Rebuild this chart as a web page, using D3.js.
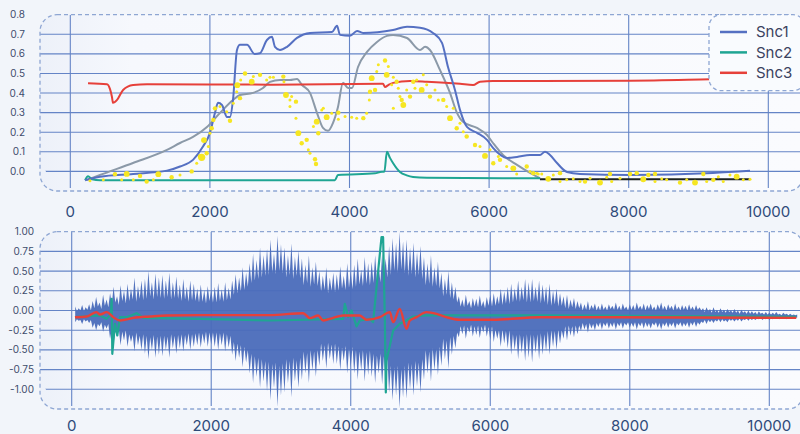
<!DOCTYPE html>
<html><head><meta charset="utf-8">
<script src="https://cdn.jsdelivr.net/npm/d3@7"></script>
<style>
html,body{margin:0;padding:0;background:#f2f5fa;}
svg{display:block;font-family:Inter,"Open Sans",sans-serif;}
</style></head><body>
<svg id="chart" width="800" height="434"></svg>
<script>
// ---------------- DATA ----------------
const xTicks = [0, 2000, 4000, 6000, 8000, 10000];
const topYTicks = [0.0, 0.1, 0.2, 0.3, 0.4, 0.5, 0.6, 0.7, 0.8];
const bottomYTicks = [1.0, 0.75, 0.5, 0.25, 0.0, -0.25, -0.5, -0.75, -1.0];
const seriesNames = ["Snc1", "Snc2", "Snc3"];

// top chart series [time, value]
const snc1Top = [[212,-0.045],[427,-0.027],[900,-0.013],[1385,0.004],[1572,0.025],[1758,0.059],[1901,0.127],[2001,0.197],[2073,0.299],[2116,0.35],[2173,0.339],[2245,0.278],[2288,0.278],[2331,0.365],[2388,0.62],[2431,0.646],[2532,0.646],[2640,0.60],[2715,0.603],[2817,0.671],[2889,0.687],[2932,0.636],[3004,0.62],[3105,0.636],[3248,0.682],[3434,0.707],[3749,0.712],[3821,0.743],[3864,0.697],[4007,0.692],[4108,0.717],[4194,0.707],[4624,0.722],[4824,0.738],[5010,0.733],[5196,0.707],[5325,0.656],[5411,0.533],[5511,0.416],[5583,0.314],[5683,0.227],[5827,0.197],[5970,0.161],[6056,0.12],[6257,0.069],[6400,0.074],[6586,0.084],[6729,0.084],[6801,0.1],[6873,0.084],[6973,0.043],[7116,-0.003],[7302,-0.013],[8019,-0.018],[9206,-0.008],[9738,0.003]];
const snc2Top = [[212,-0.045],[254,-0.025],[311,-0.04],[426,-0.045],[3790,-0.045],[3835,-0.018],[4366,-0.01],[4437,-0.003],[4500,0.0],[4536,0.1],[4580,0.069],[4623,0.043],[4723,-0.003],[4820,-0.02],[4910,-0.028],[5110,-0.032],[6729,-0.035]];
const snc3Top = [[254,0.45],[526,0.445],[569,0.42],[597,0.38],[612,0.35],[670,0.365],[756,0.416],[900,0.441],[1099,0.445],[2861,0.443],[4480,0.448],[4509,0.431],[4556,0.441],[4624,0.452],[4867,0.462],[5110,0.458],[5583,0.447],[5770,0.441],[5870,0.458],[6056,0.462],[6729,0.462],[8019,0.463],[9166,0.47],[9738,0.474]];
const greyTop = [[240,-0.043],[426,-0.018],[898,0.043],[1385,0.11],[1572,0.145],[1758,0.176],[1958,0.227],[2145,0.299],[2331,0.365],[2431,0.39],[2618,0.401],[2761,0.426],[2861,0.457],[3004,0.467],[3147,0.467],[3248,0.472],[3320,0.441],[3434,0.401],[3534,0.299],[3620,0.222],[3692,0.207],[3764,0.248],[3835,0.329],[3907,0.452],[3979,0.426],[4036,0.426],[4122,0.533],[4251,0.61],[4394,0.661],[4537,0.692],[4624,0.697],[4824,0.681],[5010,0.62],[5083,0.636],[5153,0.62],[5296,0.518],[5440,0.401],[5540,0.299],[5626,0.253],[5827,0.222],[5970,0.186],[6056,0.145],[6199,0.084],[6400,0.033],[6586,-0.008],[6729,-0.035]];
const blackTop = [[6729,-0.04],[9738,-0.04]];
// yellow scatter [time, value, size class]
const yellowPts = [[282,-0.048,1],[473,-0.043,1],[640,-0.014,2],[736,-0.043,1],[808,-0.013,3],[903,-0.043,1],[999,-0.023,2],[1094,-0.052,2],[1190,-0.043,1],[1261,-0.014,3],[1452,-0.03,2],[1572,-0.018,1],[1739,0.0,2],[1811,0.042,1],[1858,0.076,2],[1882,0.072,4],[1915,0.16,3],[1954,0.093,2],[1978,0.127,1],[2001,0.195,1],[2026,0.22,2],[2049,0.263,2],[2073,0.322,2],[2145,0.331,1],[2241,0.305,1],[2288,0.259,2],[2335,0.348,1],[2384,0.407,1],[2393,0.44,3],[2431,0.374,2],[2441,0.467,1],[2503,0.50,2],[2599,0.458,3],[2622,0.484,1],[2718,0.493,2],[2813,0.467,1],[2861,0.481,1],[2909,0.481,1],[3052,0.484,2],[3061,0.458,1],[3090,0.39,3],[3171,0.382,1],[3147,0.365,1],[3233,0.356,2],[3147,0.331,1],[3233,0.272,1],[3267,0.195,3],[3315,0.144,2],[3387,0.161,2],[3410,0.11,1],[3434,0.093,1],[3506,0.062,2],[3520,0.038,2],[3483,0.229,1],[3553,0.195,2],[3530,0.254,3],[3602,0.314,1],[3625,0.322,1],[3673,0.277,3],[3745,0.297,1],[3840,0.30,2],[3840,0.266,1],[3936,0.28,1],[4031,0.277,1],[4103,0.272,1],[4198,0.272,2],[4246,0.297,1],[4284,0.365,1],[4294,0.407,2],[4318,0.476,3],[4366,0.416,2],[4390,0.51,1],[4413,0.544,1],[4509,0.566,2],[4556,0.535,1],[4533,0.493,3],[4604,0.442,1],[4628,0.481,1],[4676,0.458,2],[4699,0.425,1],[4723,0.382,1],[4748,0.365,2],[4771,0.339,3],[4628,0.322,1],[4819,0.416,1],[4867,0.382,2],[4914,0.458,2],[4938,0.425,1],[4963,0.467,1],[5034,0.416,3],[5057,0.493,1],[5106,0.442,1],[5153,0.382,2],[5225,0.416,1],[5272,0.365,1],[5344,0.365,2],[5392,0.331,1],[5440,0.272,3],[5487,0.322,1],[5536,0.22,2],[5583,0.246,1],[5630,0.203,1],[5679,0.178,2],[5798,0.135,2],[5870,0.127,1],[5941,0.079,3],[6013,0.11,1],[6060,0.042,2],[6132,0.076,1],[6156,0.059,2],[6252,0.025,1],[6347,0.016,3],[6395,-0.013,1],[6539,0.025,2],[6586,0.0,1],[6633,-0.009,2],[6705,-0.013,1],[6682,-0.009,1],[6754,-0.013,1],[6848,-0.038,3],[6920,-0.018,1],[7016,-0.009,2],[7016,-0.052,1],[7112,-0.043,1],[7206,-0.038,1],[7302,-0.052,1],[7374,-0.052,2],[7446,-0.035,1],[7589,-0.057,3],[7685,-0.03,1],[7732,-0.013,2],[7756,-0.052,1],[7875,-0.035,1],[8019,-0.013,2],[8115,-0.009,2],[8209,-0.04,3],[8281,-0.018,2],[8377,-0.013,2],[8377,-0.052,1],[8473,-0.038,1],[8544,-0.043,1],[8735,-0.057,2],[8831,-0.043,1],[8950,-0.057,3],[9069,-0.013,2],[9117,-0.052,1],[9212,-0.043,2],[9284,-0.027,1],[9355,-0.052,1],[9451,-0.018,1],[9547,-0.027,3],[9642,-0.043,1],[9738,-0.04,1]];

// bottom chart: waveform peaks, one sample every 25 time units from t=50 (10 per row)
const waveStart = 50, waveStep = 25;
const waveUpper = [
.05,-.01,.03,.00,.07,-.01,.04,.01,.08,.00,
.12,.03,.17,.05,.10,.02,.20,.06,.14,.04,
.22,.08,.30,.10,.18,.07,.32,.12,.25,.09,
.34,.12,.28,.14,.42,.11,.31,.15,.38,.13,
.40,.15,.50,.18,.36,.14,.47,.17,.42,.16,
.45,.15,.38,.17,.48,.14,.36,.16,.43,.15,
.33,.12,.40,.14,.30,.11,.38,.13,.34,.12,
.28,.10,.33,.11,.26,.09,.31,.12,.27,.10,
.30,.10,.35,.12,.27,.11,.36,.13,.29,.14,
.38,.20,.46,.22,.42,.24,.55,.26,.48,.30,
.60,.35,.72,.38,.64,.40,.80,.42,.70,.44,
.78,.45,.90,.48,.72,.46,.95,.50,.84,.47,
.80,.42,.70,.45,.85,.40,.68,.44,.76,.41,
.66,.32,.58,.35,.70,.30,.55,.33,.62,.31,
.50,.24,.44,.26,.55,.22,.42,.25,.48,.23,
.46,.25,.56,.28,.44,.26,.60,.29,.50,.27,
.58,.30,.66,.33,.52,.31,.68,.34,.60,.32,
.62,.35,.70,.38,.58,.36,.72,.40,.66,.42,
.82,.45,.92,.50,.86,.48,1.00,.52,.88,.47,
.90,.44,.80,.46,.86,.42,.74,.45,.82,.40,
.68,.32,.60,.34,.70,.30,.55,.31,.62,.28,
.48,.18,.40,.20,.50,.16,.36,.14,.30,.10,
.18,.05,.14,.04,.20,.06,.12,.03,.16,.05,
.15,.04,.19,.05,.12,.03,.17,.06,.20,.05,
.22,.06,.18,.08,.28,.07,.24,.09,.30,.08,
.34,.10,.28,.12,.38,.11,.30,.13,.40,.10,
.36,.10,.40,.12,.30,.11,.38,.09,.33,.10,
.30,.07,.34,.06,.25,.08,.28,.05,.22,.06,
.18,.03,.20,.02,.14,.04,.16,.02,.12,.03,
.10,.00,.08,.01,.12,.00,.07,.02,.09,.00,
.06,.00,.09,.01,.05,.00,.08,.02,.06,.01,
.10,.01,.06,.00,.09,.02,.05,.00,.08,.01,
.07,.00,.10,.02,.06,.01,.09,.00,.07,.02,
.09,.01,.05,.00,.08,.02,.10,.01,.06,.00,
.08,.02,.06,.00,.09,.01,.05,.00,.07,.01,
.06,.00,.08,.01,.05,.00,.07,.01,.04,.00,
.03,-.02,.04,-.01,.02,-.03,.04,-.02,.01,-.03,
.03,-.02,.01,-.03,.02,-.02,.00,-.03,.02,-.03,
.00,-.04,.01,-.03,-.01,-.04,.00,-.04,-.01,-.04,
-.02,-.05,-.01,-.04,-.03,-.05,-.02,-.05,-.03,-.05,
-.03,-.05,-.02,-.05,-.04,-.06,-.03,-.05,-.04,-.06,
-.04,-.06,-.05,-.06,-.05];
const waveLower = [
-.15,-.11,-.13,-.12,-.17,-.11,-.14,-.12,-.16,-.12,
-.22,-.16,-.25,-.17,-.20,-.15,-.27,-.18,-.23,-.17,
-.36,-.24,-.42,-.26,-.33,-.23,-.44,-.27,-.38,-.25,
-.46,-.30,-.40,-.31,-.52,-.28,-.44,-.32,-.50,-.30,
-.55,-.32,-.62,-.34,-.50,-.31,-.60,-.33,-.56,-.32,
-.58,-.32,-.50,-.33,-.60,-.30,-.48,-.32,-.55,-.31,
-.48,-.30,-.52,-.31,-.44,-.29,-.50,-.30,-.46,-.29,
-.44,-.28,-.47,-.29,-.42,-.27,-.46,-.28,-.43,-.28,
-.46,-.28,-.50,-.29,-.44,-.28,-.52,-.30,-.47,-.32,
-.56,-.40,-.64,-.42,-.60,-.44,-.72,-.46,-.66,-.50,
-.80,-.55,-.92,-.58,-.84,-.60,-.98,-.62,-.90,-.64,
-1.02,-.65,-1.14,-.68,-.98,-.66,-1.22,-.70,-1.08,-.67,
-1.04,-.62,-.92,-.64,-1.10,-.60,-.90,-.63,-.98,-.60,
-.88,-.52,-.80,-.54,-.92,-.50,-.76,-.52,-.84,-.50,
-.70,-.42,-.64,-.44,-.74,-.41,-.62,-.43,-.68,-.42,
-.68,-.45,-.76,-.47,-.64,-.45,-.80,-.48,-.72,-.46,
-.80,-.50,-.88,-.52,-.76,-.50,-.90,-.53,-.82,-.51,
-.84,-.55,-.92,-.57,-.80,-.55,-.94,-.58,-.88,-.60,
-1.04,-.70,-1.14,-.72,-1.08,-.70,-1.24,-.74,-1.10,-.70,
-1.12,-.66,-1.00,-.68,-1.08,-.64,-.96,-.66,-1.04,-.62,
-.88,-.50,-.80,-.52,-.90,-.48,-.76,-.49,-.82,-.46,
-.70,-.36,-.62,-.38,-.74,-.34,-.56,-.32,-.48,-.28,
-.34,-.20,-.30,-.19,-.36,-.21,-.28,-.18,-.33,-.20,
-.31,-.19,-.35,-.20,-.28,-.18,-.33,-.21,-.37,-.20,
-.40,-.24,-.36,-.25,-.46,-.24,-.42,-.26,-.48,-.25,
-.56,-.30,-.50,-.31,-.62,-.30,-.54,-.32,-.64,-.30,
-.60,-.30,-.66,-.31,-.54,-.30,-.62,-.29,-.56,-.30,
-.52,-.26,-.56,-.25,-.46,-.26,-.50,-.24,-.42,-.25,
-.36,-.20,-.38,-.19,-.32,-.20,-.34,-.19,-.30,-.19,
-.26,-.16,-.24,-.17,-.28,-.16,-.23,-.17,-.25,-.16,
-.21,-.15,-.24,-.16,-.20,-.15,-.23,-.16,-.21,-.15,
-.24,-.16,-.20,-.15,-.23,-.16,-.19,-.15,-.22,-.16,
-.21,-.15,-.24,-.16,-.20,-.15,-.23,-.15,-.21,-.16,
-.23,-.16,-.19,-.15,-.22,-.16,-.24,-.16,-.20,-.15,
-.22,-.16,-.20,-.15,-.23,-.16,-.19,-.15,-.21,-.16,
-.20,-.15,-.22,-.15,-.19,-.14,-.21,-.15,-.18,-.14,
-.16,-.12,-.17,-.12,-.15,-.12,-.16,-.12,-.14,-.11,
-.15,-.11,-.14,-.12,-.15,-.11,-.13,-.11,-.14,-.11,
-.13,-.10,-.14,-.11,-.12,-.10,-.13,-.10,-.12,-.10,
-.12,-.10,-.11,-.09,-.12,-.10,-.11,-.09,-.12,-.10,
-.11,-.09,-.10,-.09,-.11,-.09,-.10,-.09,-.11,-.09,
-.10,-.09,-.10,-.09,-.09];
const snc2Bottom = [[47,-0.085],[405,-0.063],[501,-0.106],[560,-0.05],[573,0.148],[582,-0.55],[620,-0.169],[654,-0.317],[692,-0.085],[788,-0.085],[931,-0.034],[1026,-0.093],[1838,-0.106],[2841,-0.127],[3891,-0.106],[3915,0.085],[3963,-0.085],[4011,0.0],[4083,-0.203],[4130,-0.127],[4274,-0.106],[4321,-0.148],[4370,0.296],[4441,0.93],[4464,0.93],[4489,-0.127],[4503,-1.04],[4513,-0.635],[4608,-0.254],[4703,-0.169],[4799,-0.127],[4894,-0.076],[5086,-0.063],[6709,-0.063],[10387,-0.08]];
const snc3Bottom = [[47,-0.085],[215,-0.076],[358,-0.021],[405,-0.051],[501,-0.021],[596,-0.085],[692,-0.127],[883,-0.093],[1122,-0.076],[1361,-0.063],[1838,-0.059],[2841,-0.059],[3318,-0.034],[3414,-0.097],[3533,-0.063],[3605,-0.127],[3748,-0.093],[3891,-0.063],[4130,-0.063],[4226,-0.118],[4417,-0.085],[4560,-0.021],[4608,-0.148],[4703,0.021],[4799,-0.232],[4847,-0.127],[4943,-0.085],[5086,-0.021],[5229,-0.042],[5372,-0.085],[5563,-0.118],[6040,-0.118],[6709,-0.085],[10387,-0.093]];

// ---------------- STYLE ----------------
const C = {blue:"#5570c2", teal:"#1fa593", red:"#e6403a", grey:"#8b99a8", black:"#1c2220",
  yellow:"#f6e622", wave:"#4a6cbb", grid:"#6484c6", border:"#8ea6d3", tickX:"#2e4a79", tickY:"#3e4c6c"};

const svg = d3.select("#chart");
const defs = svg.append("defs");
const grad = defs.append("linearGradient").attr("id","pg").attr("x1","0").attr("x2","1").attr("y1","0").attr("y2","0");
grad.append("stop").attr("offset","0").attr("stop-color","#edf1f9");
grad.append("stop").attr("offset","0.12").attr("stop-color","#f6f8fd");
grad.append("stop").attr("offset","1").attr("stop-color","#fafbfe");

function rr(x,y,w,h,tl,tr,br,bl){
  return `M${x+tl},${y}H${x+w-tr}A${tr},${tr} 0 0 1 ${x+w},${y+tr}V${y+h-br}A${br},${br} 0 0 1 ${x+w-br},${y+h}H${x+bl}A${bl},${bl} 0 0 1 ${x},${y+h-bl}V${y+tl}A${tl},${tl} 0 0 1 ${x+tl},${y}Z`;
}

function panel(cfg){
  const {id, x, y, yTicks, yFmt, yLabelX, xLabelY} = cfg;
  const [py0, py1] = y.range(); // bottom, top
  const left = 40, right = 803, pTop = py1, pBottom = py0;
  const g = svg.append("g");
  g.append("path").attr("d", rr(left, pTop, right-left, pBottom-pTop, 17, 15, 15, 17))
    .attr("fill","url(#pg)");
  defs.append("clipPath").attr("id","gc"+id).append("path")
    .attr("d", rr(left, pTop, right-left, pBottom-pTop, 17, 15, 15, 40));
  defs.append("clipPath").attr("id","pc"+id).append("path")
    .attr("d", rr(left, pTop, right-left, pBottom-pTop, 17, 15, 15, 17));
  const grid = g.append("g").attr("clip-path",`url(#gc${id})`);
  grid.selectAll("line.h").data(yTicks.filter(v => y(v) > pTop + 1)).join("line")
    .attr("x1", left).attr("x2", right).attr("y1", d => y(d)).attr("y2", d => y(d))
    .attr("stroke", C.grid).attr("stroke-width", 1.1);
  grid.selectAll("line.v").data(xTicks).join("line")
    .attr("x1", d => x(d)).attr("x2", d => x(d)).attr("y1", pTop).attr("y2", pBottom - 3)
    .attr("stroke", C.grid).attr("stroke-width", 1.1);
  g.selectAll("text.y").data(yTicks).join("text")
    .attr("x", yLabelX).attr("y", d => y(d)).attr("dy","0.35em")
    .attr("text-anchor","end").attr("font-size", 10).attr("fill", C.tickY)
    .text(yFmt);
  g.selectAll("text.x").data(xTicks).join("text")
    .attr("x", d => x(d)).attr("y", xLabelY).attr("text-anchor","middle")
    .attr("font-size", 15).attr("fill", C.tickX).text(d => d);
  const plot = svg.append("g").attr("clip-path",`url(#pc${id})`);
  return {g, plot, left, right, pTop, pBottom};
}

// ---------- TOP ----------
const xT = d3.scaleLinear().domain([0,10000]).range([70.3,768.3]);
const yT = d3.scaleLinear().domain([-0.1,0.8]).range([191,14.7]);
const topPanel = panel({id:"t", x:xT, y:yT, yTicks:topYTicks, yFmt:d3.format(".1f"), yLabelX:25, xLabelY:216.5});
const lineT = d3.line().x(d => xT(d[0])).y(d => yT(d[1])).curve(d3.curveMonotoneX);
const tp = topPanel.plot;
tp.append("path").attr("d", lineT(greyTop)).attr("fill","none").attr("stroke",C.grey).attr("stroke-width",2);
tp.append("path").attr("d", lineT(snc3Top)).attr("fill","none").attr("stroke",C.red).attr("stroke-width",2);
tp.append("path").attr("d", lineT(snc2Top)).attr("fill","none").attr("stroke",C.teal).attr("stroke-width",2);
tp.append("path").attr("d", lineT(blackTop)).attr("fill","none").attr("stroke",C.black).attr("stroke-width",1.8);
tp.append("path").attr("d", lineT(snc1Top)).attr("fill","none").attr("stroke",C.blue).attr("stroke-width",2);
const rS = d3.scaleLinear().domain([1,4]).range([1.5,3.6]);
tp.selectAll("circle.y").data(yellowPts).join("circle")
  .attr("cx", d => xT(d[0])).attr("cy", d => yT(d[1])).attr("r", d => rS(d[2]))
  .attr("fill", C.yellow);

// ---------- BOTTOM ----------
const xB = d3.scaleLinear().domain([0,10000]).range([71.7,769.3]);
const yB = d3.scaleLinear().domain([-1.25,1]).range([409,231.7]);
const fmtB = v => d3.format(".2f")(v).replace("\u2212","-");
const botPanel = panel({id:"b", x:xB, y:yB, yTicks:bottomYTicks, yFmt:fmtB, yLabelX:34, xLabelY:430.5});
const bp = botPanel.plot;
const wave = waveUpper.map((u,i) => ({t: waveStart + i*waveStep, u, l: waveLower[i]}));
bp.append("path").attr("d", d3.area().x(d => xB(d.t)).y0(d => yB(d.l)).y1(d => yB(d.u))(wave))
  .attr("fill", C.wave).attr("fill-opacity", 0.95);
bp.append("path").attr("d", d3.line().x(d => xB(d[0])).y(d => yB(d[1]))(snc2Bottom))
  .attr("fill","none").attr("stroke",C.teal).attr("stroke-width",2.2).attr("stroke-linejoin","round");
bp.append("path").attr("d", d3.line().x(d => xB(d[0])).y(d => yB(d[1])).curve(d3.curveMonotoneX)(snc3Bottom))
  .attr("fill","none").attr("stroke",C.red).attr("stroke-width",2.4);

// ---------- borders ----------
[topPanel, botPanel].forEach(p => {
  svg.append("path").attr("d", rr(p.left, p.pTop, p.right-p.left, p.pBottom-p.pTop, 17, 15, 15, 17))
    .attr("fill","none").attr("stroke",C.border).attr("stroke-width",1.3).attr("stroke-dasharray","4,3");
});

// ---------- legend ----------
const lg = svg.append("g");
lg.append("path").attr("d", rr(709, 14.7, 96, 76, 12, 12, 12, 12))
  .attr("fill","#f9fbfe").attr("stroke",C.border).attr("stroke-width",1.3).attr("stroke-dasharray","4,3");
const legColors = [C.blue, C.teal, C.red];
seriesNames.forEach((n,i) => {
  const cy = 32 + i*20.4;
  lg.append("line").attr("x1",720).attr("x2",747).attr("y1",cy).attr("y2",cy)
    .attr("stroke",legColors[i]).attr("stroke-width",2.5);
  lg.append("text").attr("x",756).attr("y",cy).attr("dy","0.36em").attr("font-size",15)
    .attr("fill","#3b4260").text(n);
});
</script>
</body></html>
